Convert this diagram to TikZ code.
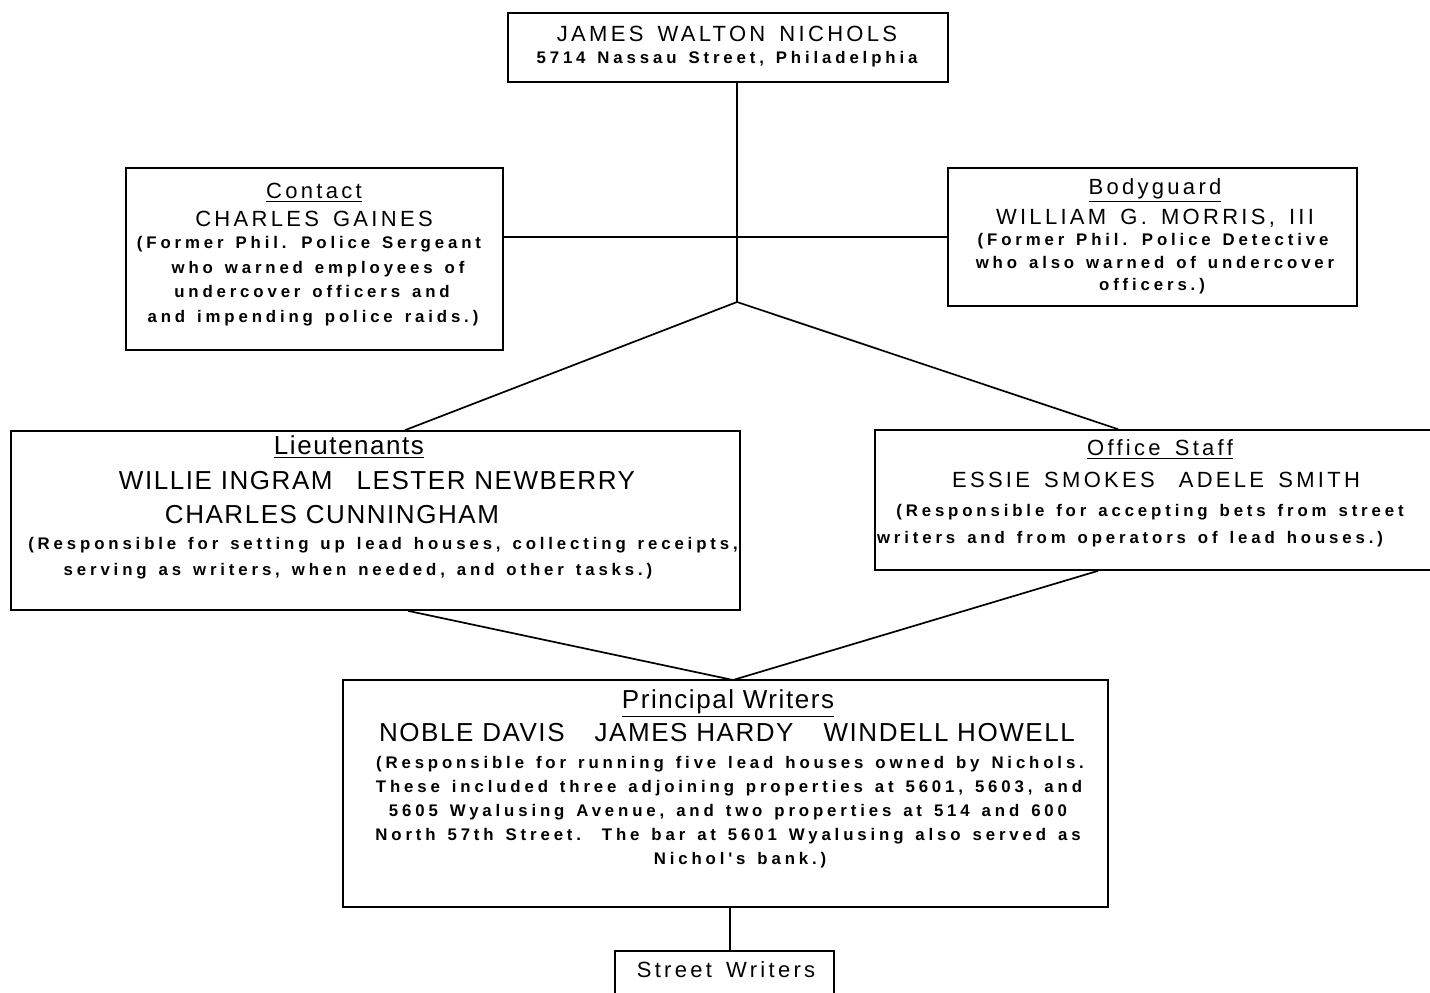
\documentclass[tikz,border=0pt]{standalone}
\usepackage{fontspec}
\setmainfont{Liberation Sans}
\newfontfamily\headfont[LetterSpace=15,WordSpace=1.5]{Liberation Sans}
\newfontfamily\namefont[LetterSpace=6]{Liberation Sans}
\newfontfamily\notefont[LetterSpace=23,WordSpace=1.4]{Liberation Sans}

\tikzset{
  orgbox/.style={draw, line width=0.85pt, inner sep=0pt, rectangle},
  basetxt/.style={anchor=base, inner sep=0pt, outer sep=0pt},
  headtxt/.style={basetxt, font=\headfont\fontsize{11}{13}\selectfont},
  persontxt/.style={basetxt, font=\namefont\fontsize{13}{15}\selectfont},
  notetxt/.style={basetxt, font=\notefont\bfseries\fontsize{8.4}{9.5}\selectfont},
  link/.style={line width=0.85pt}
}

\begin{document}
\begin{tikzpicture}[x=0.5pt, y=-0.5pt]
  \fill[white] (0,0) rectangle (1430,992);
  \useasboundingbox (0,0) rectangle (1430,992);

  % ---- boxes ----
  \node[orgbox, minimum width=220pt,   minimum height=34.5pt] (boss)   at (728,47.5)   {};
  \node[orgbox, minimum width=188.5pt, minimum height=91pt]   (cont)   at (314.5,259)  {};
  \node[orgbox, minimum width=204.5pt, minimum height=69pt]   (guard)  at (1152.5,237) {};
  \node[orgbox, minimum width=364.5pt, minimum height=89.5pt] (lieut)  at (375.5,520.5) {};
  \node[orgbox, minimum width=282.5pt, minimum height=70pt]   (office) at (1157.5,500) {};
  \node[orgbox, minimum width=382.5pt, minimum height=113.5pt](princ)  at (725.5,793.5) {};
  \node[orgbox, minimum width=109.5pt, minimum height=30pt]   (street) at (724.5,981)  {};

  % ---- head of the organisation ----
  \node[headtxt] (bossA) at (727,41) {JAMES WALTON NICHOLS};
  \node[notetxt] (bossB) at (727,63) {5714 Nassau Street, Philadelphia};

  % ---- contact ----
  \node[headtxt] (contA) at (314,198) {\underline{Contact}};
  \node[headtxt] (contB) at (314,226) {CHARLES GAINES};
  \node[notetxt] (contC) at (309,248) {(Former Phil. Police Sergeant};
  \node[notetxt] (contD) at (318,273) {who warned employees of};
  \node[notetxt] (contE) at (312,297) {undercover officers and};
  \node[notetxt] (contF) at (313,322) {and impending police raids.)};

  % ---- bodyguard ----
  \node[headtxt] (guardA) at (1155,194) {\underline{Bodyguard}};
  \node[headtxt] (guardB) at (1155,224) {WILLIAM G. MORRIS, III};
  \node[notetxt] (guardC) at (1153,245) {(Former Phil. Police Detective};
  \node[notetxt] (guardD) at (1155,268) {who also warned of undercover};
  \node[notetxt] (guardE) at (1152,290) {officers.)};

  % ---- lieutenants ----
  \node[persontxt] (lieutA) at (349,454) {\underline{Lieutenants}};
  \node[persontxt] (lieutB) at (377,489) {WILLIE INGRAM\hspace{12pt}LESTER NEWBERRY};
  \node[persontxt] (lieutC) at (332,523) {CHARLES CUNNINGHAM};
  \node[notetxt] (lieutD) at (383,549) {(Responsible for setting up lead houses, collecting receipts,};
  \node[notetxt] (lieutE) at (358,575) {serving as writers, when needed, and other tasks.)};

  % ---- office staff ----
  \node[headtxt] (offA) at (1160,455) {\underline{Office Staff}};
  \node[headtxt] (offB) at (1156,487) {ESSIE SMOKES\hspace{12pt}ADELE SMITH};
  \node[notetxt] (offC) at (1150,516) {(Responsible for accepting bets from street};
  \node[notetxt] (offD) at (1130,543) {writers and from operators of lead houses.)};

  % ---- principal writers ----
  \node[persontxt] (princA) at (728,708) {\underline{Principal Writers}};
  \node[persontxt] (princB) at (727,741) {NOBLE DAVIS\hspace{15pt}JAMES HARDY\hspace{15pt}WINDELL HOWELL};
  \node[notetxt] (princC) at (730,768) {(Responsible for running five lead houses owned by Nichols.};
  \node[notetxt] (princD) at (729,792) {These included three adjoining properties at 5601, 5603, and};
  \node[notetxt] (princE) at (728,816) {5605 Wyalusing Avenue, and two properties at 514 and 600};
  \node[notetxt] (princF) at (728,840) {North 57th Street.\hspace{3pt} The bar at 5601 Wyalusing also served as};
  \node[notetxt] (princG) at (740,864) {Nichol's bank.)};

  % ---- street writers ----
  \node[headtxt] (streetA) at (726,977) {Street Writers};

  % ---- connectors ----
  \coordinate (hub)  at (737,302);
  \coordinate (rail) at (737,237);
  \coordinate (meet) at (733,680);

  \draw[link] (hub |- boss.south) -- (hub);
  \draw[link] (cont.east |- rail) -- (guard.west |- rail);
  \draw[link] (hub) -- ([xshift=14.75pt]lieut.north);
  \draw[link] (hub) -- ([xshift=-19.75pt]office.north);
  \draw[link] ([xshift=16.25pt]lieut.south) -- (meet);
  \draw[link] ([xshift=-29.75pt]office.south) -- (meet);
  \draw[link] ([xshift=2.25pt]princ.south) -- ([xshift=2.75pt]street.north);
\end{tikzpicture}
\end{document}
